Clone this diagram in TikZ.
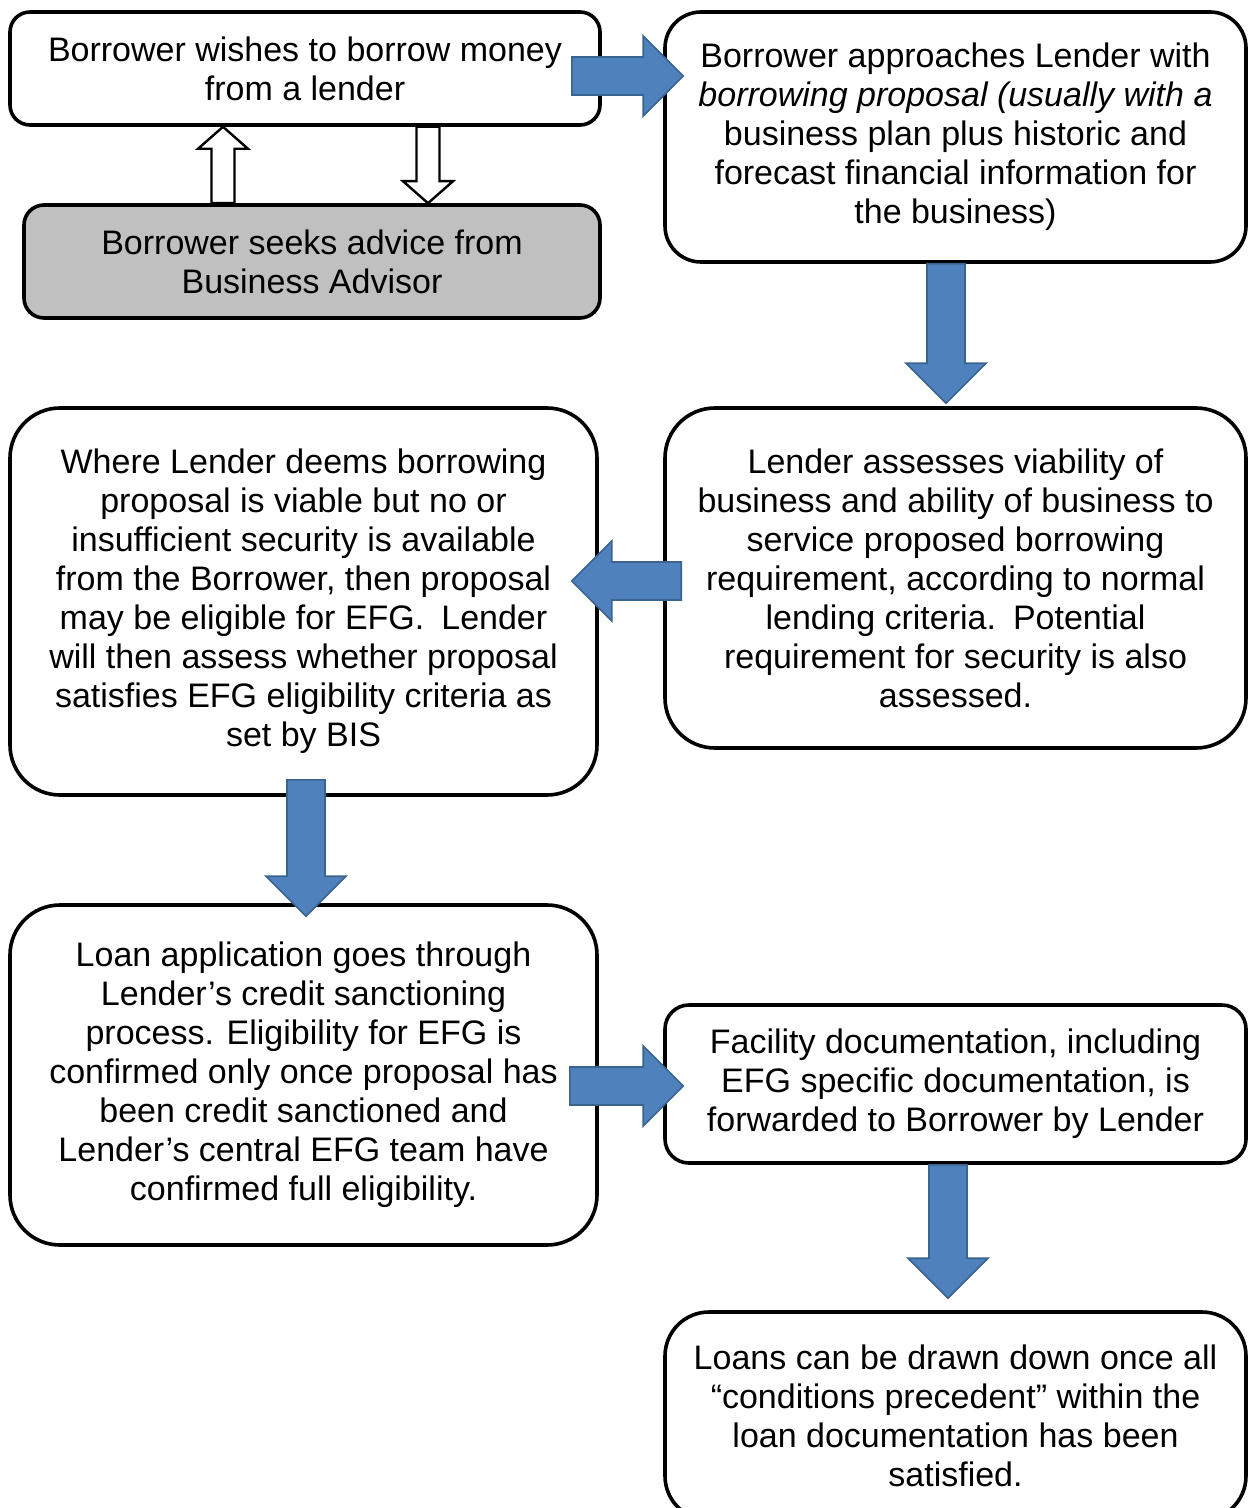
\documentclass[tikz,border=0pt]{standalone}
\usepackage{fontspec}
\setmainfont{Liberation Sans}
\usetikzlibrary{calc}
\definecolor{arrowblue}{HTML}{4F81BD}
\definecolor{arrowedge}{HTML}{3A6490}
\definecolor{advicegray}{HTML}{C0C0C0}

\begin{document}
\begin{tikzpicture}[x=0.5pt, y=-0.5pt,
    box/.style={draw=black, line width=1.8pt, fill=white, rounded corners=#1,
      align=center, inner sep=0pt, font=\fontsize{17}{19.5}\selectfont},
    box/.default=10pt,
    blockarrow/.style n args={3}{to path={
      (\tikztostart) coordinate (bs) (\tikztotarget) coordinate (bt)
      ($(bt)!#3!(bs)$) coordinate (bh)
      ($(bs)!#1!90:(bt)$) -- ($(bh)!#1!-90:(bs)$) -- ($(bh)!#2!-90:(bs)$) -- (bt)
      -- ($(bh)!#2!90:(bs)$) -- ($(bh)!#1!90:(bs)$) -- ($(bs)!#1!-90:(bt)$) -- cycle}},
    bluearrow/.style={blockarrow={9.5pt}{20pt}{20pt}, fill=arrowblue, draw=arrowedge,
      line width=0.8pt, line join=miter},
    hollowarrow/.style={blockarrow={5.75pt}{12.5pt}{11pt}, fill=white, draw=black,
      line width=1.2pt, line join=miter}]
  \useasboundingbox (0,0) rectangle (1248,1508);
  \clip (0,0) rectangle (1248,1508);

  % left column
  \node[box, minimum width=295pt, minimum height=56.5pt] (wish) at (305,68.5)
    {Borrower wishes to borrow money\\from a lender};
  \node[box, fill=advicegray, minimum width=288pt, minimum height=56.5pt] (advice) at (312,261.5)
    {Borrower seeks advice from\\Business Advisor};
  \node[box=25pt, minimum width=293.5pt, minimum height=193.5pt] (deems) at (303.5,601.5)
    {Where Lender deems borrowing\\proposal is viable but no or\\insufficient security is available\\from the Borrower, then proposal\\may be eligible for EFG.\enspace Lender\\will then assess whether proposal\\satisfies EFG eligibility criteria as\\set by BIS};
  \node[box=25pt, minimum width=293.5pt, minimum height=170pt] (apply) at (303.5,1075)
    {Loan application goes through\\Lender’s credit sanctioning\\process. Eligibility for EFG is\\confirmed only once proposal has\\been credit sanctioned and\\Lender’s central EFG team have\\confirmed full eligibility.};

  % right column
  \node[box=18pt, minimum width=290.5pt, minimum height=125pt] (approach) at (955.5,137)
    {Borrower approaches Lender with\\\textit{borrowing proposal (usually with a}\\business plan plus historic and\\forecast financial information for\\the business)};
  \node[box=25pt, minimum width=290.5pt, minimum height=170pt] (assess) at (955.5,578)
    {Lender assesses viability of\\business and ability of business to\\service proposed borrowing\\requirement, according to normal\\lending criteria.\enspace Potential\\requirement for security is also\\assessed.};
  \node[box=12pt, minimum width=290.5pt, minimum height=79pt] (docs) at (955.5,1084)
    {Facility documentation, including\\EFG specific documentation, is\\forwarded to Borrower by Lender};
  \node[box=22pt, minimum width=290.5pt, minimum height=104pt] (drawdown) at (955.5,1416)
    {Loans can be drawn down once all\\“conditions precedent” within the\\loan documentation has been\\satisfied.};

  % advice arrows
  \draw[hollowarrow] ($(advice.north)+(-44.5pt,0)$) to ($(wish.south)+(-41pt,0)$);
  \draw[hollowarrow] ($(wish.south)+(61.5pt,0)$) to ($(advice.north)+(58pt,0)$);

  % main flow
  \draw[bluearrow] ($(wish.east)+(-15pt,-3.75pt)$) to ($(approach.west |- wish.east)+(10pt,-3.75pt)$);
  \draw[bluearrow] ($(approach.south)+(-4.75pt,0)$) to ($(assess.north)+(-4.75pt,1.5pt)$);
  \draw[bluearrow] ($(assess.west)+(9pt,-1.5pt)$) to ($(deems.east |- assess.west)+(-13.5pt,-1.5pt)$);
  \draw[bluearrow] ($(deems.south)+(1.25pt,8.5pt)$) to ($(apply.north)+(1.25pt,-6.5pt)$);
  \draw[bluearrow] ($(apply.east)+(-14.5pt,-5.5pt)$) to ($(docs.west |- apply.east)+(10pt,-5.5pt)$);
  \draw[bluearrow] ($(docs.south)+(-3.75pt,0)$) to ($(drawdown.north)+(-3.75pt,6pt)$);
\end{tikzpicture}
\end{document}
